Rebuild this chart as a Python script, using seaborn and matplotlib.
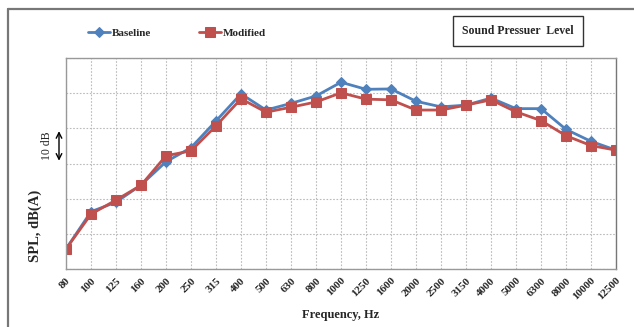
import numpy as np
import pandas as pd
import matplotlib
matplotlib.use("Agg")
import matplotlib.pyplot as plt
from matplotlib.lines import Line2D
import seaborn as sns

freqs = ["80", "100", "125", "160", "200", "250", "315", "400", "500", "630", "800",
         "1000", "1250", "1600", "2000", "2500", "3150", "4000", "5000", "6300",
         "8000", "10000", "12500"]
baseline = [5.7, 16.3, 19.0, 23.9, 30.5, 34.5, 42.1, 49.8, 45.2, 47.1, 49.2,
            53.1, 51.1, 51.2, 47.7, 46.1, 46.6, 48.6, 45.6, 45.6, 39.7, 36.3, 33.8]
modified = [5.7, 15.6, 19.6, 23.8, 32.2, 33.6, 40.7, 48.4, 44.6, 46.0, 47.5,
            50.1, 48.3, 48.1, 45.2, 45.2, 46.6, 48.1, 44.7, 42.2, 37.9, 35.1, 33.8]

df = pd.DataFrame({"pos": np.arange(len(freqs)), "Baseline": baseline, "Modified": modified})

sns.set_style("white")
plt.rcParams['font.family'] = ['Liberation Serif', 'DejaVu Serif']

fig = plt.figure(figsize=(6.34, 3.27), dpi=100)
ax = fig.add_axes([66/634, 1 - 269/327, 550/634, 211/327])

sns.lineplot(data=df, x="pos", y="Baseline", ax=ax, color="#4F81BD", lw=2,
             marker="D", markersize=5, markeredgecolor="#4F81BD", label="Baseline")
sns.lineplot(data=df, x="pos", y="Modified", ax=ax, color="#C0504D", lw=2,
             marker="s", markersize=6.5, markeredgecolor="#C0504D", label="Modified")

ax.set_xlim(0, len(freqs) - 1)
ax.set_ylim(0, 60)
ax.set_xticks(df["pos"])
ax.set_xticklabels(freqs, rotation=45, ha="right", rotation_mode="anchor",
                   fontsize=8, fontweight="bold")
ax.set_yticks(np.arange(0, 61, 10))
ax.set_yticklabels([])
ax.tick_params(axis="both", length=0, pad=5)
ax.grid(True, color="#BBBBBB", linestyle=(0, (1.5, 1.5)), linewidth=0.8)
for s in ax.spines.values():
    s.set_color("#999999")
    s.set_linewidth(1)
ax.spines["right"].set_color("#777777")

ax.set_xlabel("Frequency, Hz", fontsize=9, fontweight="bold", labelpad=5)
ax.set_ylabel("")
fig.text(35/634, 1 - 226/327, "SPL, dB(A)", rotation=90, fontsize=10.5, fontweight="bold",
         ha="center", va="center")

# 10 dB scale marker
ax.annotate("", xy=(-0.28, 40), xytext=(-0.28, 30), xycoords="data",
            arrowprops=dict(arrowstyle="<->", color="black", lw=1), annotation_clip=False)
fig.text(47/634, 1 - 146/327, "10 dB", rotation=90, fontsize=8.5, ha="center", va="center")

leg = ax.legend(loc="center left", bbox_to_anchor=(78/634, 1 - 33/327), bbox_transform=fig.transFigure,
                ncol=2, frameon=False, columnspacing=4.3, handlelength=2.0,
                handletextpad=0.15, prop={"weight": "bold", "size": 8})

fig.text(518/634, 1 - 31/327, "Sound Pressuer  Level", fontsize=8.5, fontweight="bold",
         ha="center", va="center",
         bbox=dict(boxstyle="square,pad=0.75", facecolor="white", edgecolor="#333333", lw=1))

# outer frame
fig.add_artist(Line2D([8/634, 8/634], [0, 1 - 9/327], color="#777777", lw=1.6))
fig.add_artist(Line2D([8/634, 1], [1 - 9/327, 1 - 9/327], color="#777777", lw=1.6))

fig.savefig("out.png", dpi=100)
